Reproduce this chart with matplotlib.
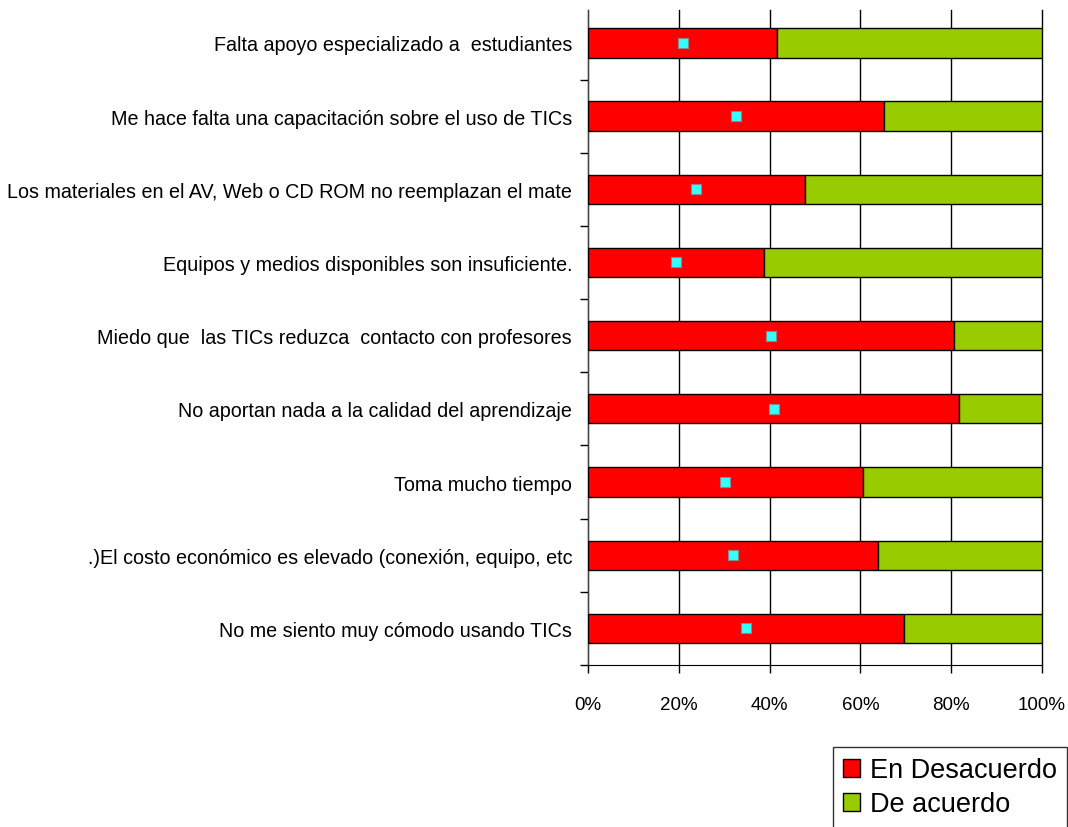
import matplotlib.pyplot as plt
import numpy as np

# Percentages per statement, top to bottom
preguntas = [
    "Falta apoyo especializado a  estudiantes",
    "Me hace falta una capacitación sobre el uso de TICs",
    "Los materiales en el AV, Web o CD ROM no reemplazan el mate",
    "Equipos y medios disponibles son insuficiente.",
    "Miedo que  las TICs reduzca  contacto con profesores",
    "No aportan nada a la calidad del aprendizaje",
    "Toma mucho tiempo",
    ".)El costo económico es elevado (conexión, equipo, etc",
    "No me siento muy cómodo usando TICs",
]
desacuerdo = [41.7, 65.1, 47.7, 38.7, 80.5, 81.7, 60.5, 63.8, 69.5]
acuerdo = [58.3, 34.9, 52.3, 61.3, 19.5, 18.3, 39.5, 36.2, 30.5]
xticks = [0, 20, 40, 60, 80, 100]

plt.rcParams['font.family'] = ['Liberation Sans', 'DejaVu Sans']

fig = plt.figure(figsize=(10.68, 8.28), dpi=100)
ax = fig.add_axes([0.5506, 0.1957, 0.4251, 0.791])

y = np.arange(len(preguntas))
ax.barh(y, desacuerdo, height=0.4, color='#ff0000', edgecolor='black', lw=1.0,
        label='En Desacuerdo', zorder=3)
ax.barh(y, acuerdo, left=desacuerdo, height=0.4, color='#99cc00', edgecolor='black',
        lw=1.0, label='De acuerdo', zorder=3)
ax.scatter(np.array(desacuerdo) / 2, y, marker='s', s=55, color='#33ffff',
           edgecolor='#888888', lw=0.8, zorder=4)

ax.set_xlim(0, 100)
ax.set_ylim(8.5, -0.45)
ax.set_xticks(xticks)
ax.set_xticklabels([f"{v}%" for v in xticks], fontsize=13.5)
ax.xaxis.grid(True, color='black', lw=1.0, zorder=0)
for gl in ax.get_xgridlines():
    gl.set_clip_on(False)
ax.tick_params(axis='x', length=6, width=1.0, pad=16)

ax.set_yticks(y)
ax.set_yticklabels(preguntas, fontsize=14.2)
ax.set_yticks(np.arange(len(preguntas)) + 0.5, minor=True)
ax.tick_params(axis='y', which='major', length=0, pad=11.5)
ax.tick_params(axis='y', which='minor', length=6, width=1.0)

for s in ['top', 'right']:
    ax.spines[s].set_visible(False)
ax.spines['left'].set_color('#444444')
ax.spines['bottom'].set_color('black')

leg = fig.legend(loc='upper left', bbox_to_anchor=(833 / 1068, 1 - 748 / 828),
                 fontsize=19.5, frameon=True, fancybox=False, edgecolor='black',
                 handlelength=0.62, handleheight=0.62, handletextpad=0.35,
                 borderpad=0.38, labelspacing=0.3, borderaxespad=0)
leg.get_frame().set_linewidth(1.0)

fig.savefig("out.png", dpi=100)
